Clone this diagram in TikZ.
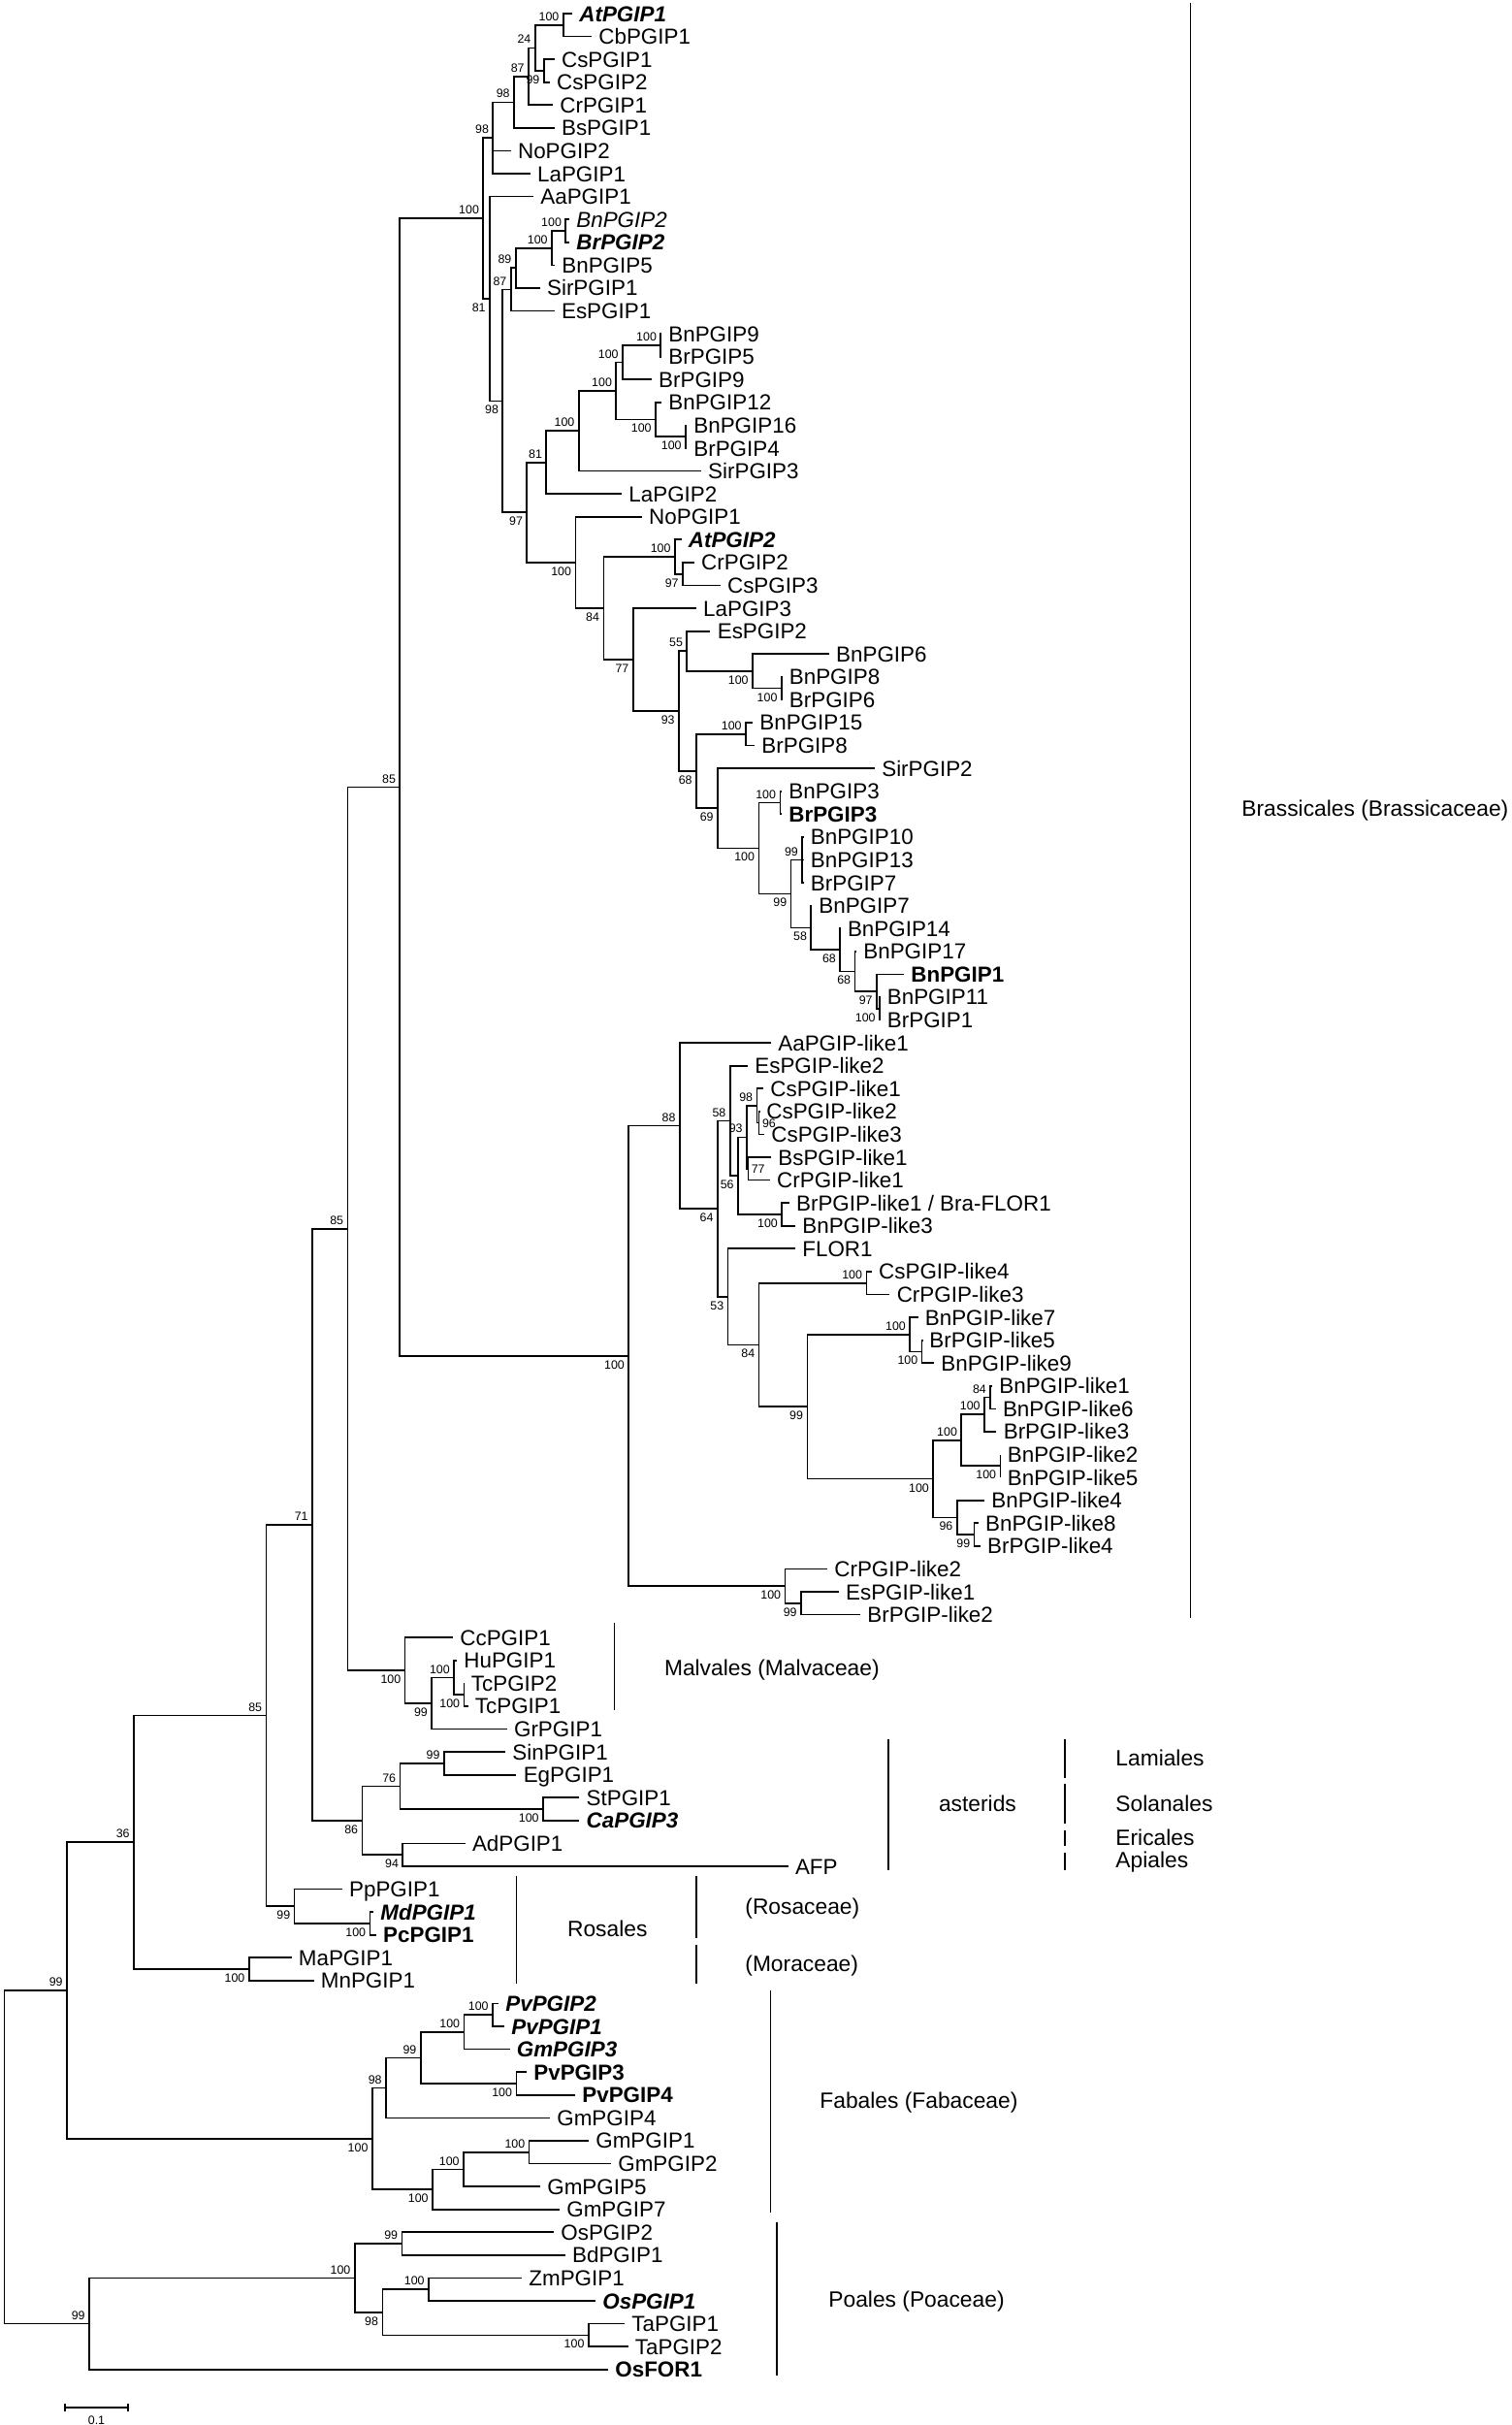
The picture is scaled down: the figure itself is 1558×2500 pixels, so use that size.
\documentclass[tikz,border=0pt]{standalone}
\usepackage{fontspec}
\setmainfont{Liberation Sans}
\usetikzlibrary{calc}
\tikzset{
  br/.style={line width=0.85pt},
  bar/.style={line width=0.9pt},
  leaf/.style={anchor=west, inner xsep=3.5pt, inner ysep=0pt, text height=8pt, text depth=0pt, font=\fontsize{11.2}{13}\selectfont},
  grp/.style={anchor=west, inner sep=0pt, text height=8.2pt, text depth=0pt, font=\fontsize{11.4}{13}\selectfont},
  bsn/.style={inner sep=2pt, text height=4.5pt, text depth=0pt, font=\fontsize{6.2}{7}\selectfont},
  bsA/.style={anchor=south east},
  bsB/.style={anchor=north east},
  bsR/.style={anchor=west, inner sep=1.5pt},
}
\newcommand\lf[3]{\coordinate (T#1) at (#2,{14+(#1-1)*23.58}); \node[leaf] (L#1) at (T#1) {#3};}
\newcommand\nd[4]{\path let \p1=(#3), \p2=(#4) in coordinate (#1) at ({#2*0.5pt},{0.5*\y1+0.5*\y2});
  \draw[br] (#3) -| (#1) |- (#4);}
\newcommand\ndt[5]{\path let \p1=(#3), \p2=(#5) in coordinate (#1) at ({#2*0.5pt},{0.5*\y1+0.5*\y2});
  \draw[br] (#3) -| (#1) |- (#5); \draw[br] (#1 |- #4) -- (#4);}
\newcommand\bs[3]{\node[bsn,#3] (b#1) at (#1) {#2};}
\newcommand\BI[1]{{\bfseries\itshape #1}}
\newcommand\BB[1]{{\bfseries #1}}
\begin{document}
\begin{tikzpicture}[x=0.5pt,y=-0.5pt]
\useasboundingbox (0,0) rectangle (1558,2500);
% leaves
\lf{1}{590}{\BI{AtPGIP1}}
\lf{2}{610}{CbPGIP1}
\lf{3}{571.7}{CsPGIP1}
\lf{4}{566.7}{CsPGIP2}
\lf{5}{570}{CrPGIP1}
\lf{6}{571.7}{BsPGIP1}
\lf{7}{526.7}{NoPGIP2}
\lf{8}{546.7}{LaPGIP1}
\lf{9}{550}{AaPGIP1}
\lf{10}{587}{\textit{BnPGIP2}}
\lf{11}{587}{\BI{BrPGIP2}}
\lf{12}{572}{BnPGIP5}
\lf{13}{556.7}{SirPGIP1}
\lf{14}{571.7}{EsPGIP1}
\lf{15}{682}{BnPGIP9}
\lf{16}{682}{BrPGIP5}
\lf{17}{671.8}{BrPGIP9}
\lf{18}{682}{BnPGIP12}
\lf{19}{708}{BnPGIP16}
\lf{20}{708}{BrPGIP4}
\lf{21}{722.8}{SirPGIP3}
\lf{22}{641}{LaPGIP2}
\lf{23}{661.8}{NoPGIP1}
\lf{24}{702.5}{\BI{AtPGIP2}}
\lf{25}{715.8}{CrPGIP2}
\lf{26}{742.7}{CsPGIP3}
\lf{27}{717.8}{LaPGIP3}
\lf{28}{732.4}{EsPGIP2}
\lf{29}{854.8}{BnPGIP6}
\lf{30}{806.5}{BnPGIP8}
\lf{31}{806.5}{BrPGIP6}
\lf{32}{776}{BnPGIP15}
\lf{33}{778}{BrPGIP8}
\lf{34}{901.9}{SirPGIP2}
\lf{35}{806}{BnPGIP3}
\lf{36}{806}{\BB{BrPGIP3}}
\lf{37}{828.5}{BnPGIP10}
\lf{38}{828.5}{BnPGIP13}
\lf{39}{828.5}{BrPGIP7}
\lf{40}{837}{BnPGIP7}
\lf{41}{866.6}{BnPGIP14}
\lf{42}{883}{BnPGIP17}
\lf{43}{932}{\BB{BnPGIP1}}
\lf{44}{907.5}{BnPGIP11}
\lf{45}{907.5}{BrPGIP1}
\lf{46}{795}{AaPGIP-like1}
\lf{47}{771}{EsPGIP-like2}
\lf{48}{787}{CsPGIP-like1}
\lf{49}{783}{CsPGIP-like2}
\lf{50}{788}{CsPGIP-like3}
\lf{51}{795}{BsPGIP-like1}
\lf{52}{793.8}{CrPGIP-like1}
\lf{53}{813.7}{BrPGIP-like1 / Bra-FLOR1}
\lf{54}{820}{BnPGIP-like3}
\lf{55}{820}{FLOR1}
\lf{56}{898.8}{CsPGIP-like4}
\lf{57}{917.4}{CrPGIP-like3}
\lf{58}{946.5}{BnPGIP-like7}
\lf{59}{951}{BrPGIP-like5}
\lf{60}{963}{BnPGIP-like9}
\lf{61}{1023}{BnPGIP-like1}
\lf{62}{1026.6}{BnPGIP-like6}
\lf{63}{1027.4}{BrPGIP-like3}
\lf{64}{1031.5}{BnPGIP-like2}
\lf{65}{1031.5}{BnPGIP-like5}
\lf{66}{1015}{BnPGIP-like4}
\lf{67}{1008.7}{BnPGIP-like8}
\lf{68}{1010.8}{BrPGIP-like4}
\lf{69}{853}{CrPGIP-like2}
\lf{70}{864.7}{EsPGIP-like1}
\lf{71}{887}{BrPGIP-like2}
\lf{72}{467}{CcPGIP1}
\lf{73}{471}{HuPGIP1}
\lf{74}{478.5}{TcPGIP2}
\lf{75}{482.5}{TcPGIP1}
\lf{76}{522.7}{GrPGIP1}
\lf{77}{521}{SinPGIP1}
\lf{78}{532.4}{EgPGIP1}
\lf{79}{597.3}{StPGIP1}
\lf{80}{597.3}{\BI{CaPGIP3}}
\lf{81}{479.6}{AdPGIP1}
\lf{82}{812.6}{AFP}
\lf{83}{352.7}{PpPGIP1}
\lf{84}{385}{\BI{MdPGIP1}}
\lf{85}{387.8}{\BB{PcPGIP1}}
\lf{86}{300.5}{MaPGIP1}
\lf{87}{323.5}{MnPGIP1}
\lf{88}{514}{\BI{PvPGIP2}}
\lf{89}{520}{\BI{PvPGIP1}}
\lf{90}{525.5}{\BI{GmPGIP3}}
\lf{91}{543}{\BB{PvPGIP3}}
\lf{92}{593}{\BB{PvPGIP4}}
\lf{93}{567}{GmPGIP4}
\lf{94}{607}{GmPGIP1}
\lf{95}{630}{GmPGIP2}
\lf{96}{557}{GmPGIP5}
\lf{97}{577}{GmPGIP7}
\lf{98}{571}{OsPGIP2}
\lf{99}{582.7}{BdPGIP1}
\lf{100}{538}{ZmPGIP1}
\lf{101}{614}{\BI{OsPGIP1}}
\lf{102}{644}{TaPGIP1}
\lf{103}{647.5}{TaPGIP2}
\lf{104}{627}{\BB{OsFOR1}}
% Brassicales PGIP clade
\nd{nAtCb}{580.7}{T1}{T2} \bs{nAtCb}{100}{bsA}
\nd{nCs}{560.7}{T3}{T4} \bs{nCs}{99}{bsB}
\nd{nTwf}{551.7}{nAtCb}{nCs} \bs{nTwf}{24}{bsA}
\nd{nEsa}{545}{nTwf}{T5} \bs{nEsa}{87}{bsA}
\nd{nNei}{530}{nEsa}{T6} \bs{nNei}{98}{bsA}
\ndt{nNeo}{508.3}{nNei}{T7}{T8} \bs{nNeo}{98}{bsA}
\nd{nBnBr}{583.3}{T10}{T11} \bs{nBnBr}{100}{bsA}
\nd{nBnf}{569}{nBnBr}{T12} \bs{nBnf}{100}{bsA}
\nd{nEnn}{531.7}{nBnf}{T13} \bs{nEnn}{89}{bsA}
\nd{nEsb}{526.7}{nEnn}{T14} \bs{nEsb}{87}{bsA}
\nd{nH}{681.3}{T15}{T16} \bs{nH}{100}{bsA}
\nd{nF}{642}{nH}{T17} \bs{nF}{100}{bsA}
\nd{nI}{707}{T19}{T20} \bs{nI}{100}{bsB}
\nd{nG}{676}{T18}{nI} \bs{nG}{100}{bsB}
\nd{nE}{635.3}{nF}{nG} \bs{nE}{100}{bsA}
\nd{nD}{596.7}{nE}{T21} \bs{nD}{100}{bsA}
\nd{nEoa}{563.3}{nD}{T22} \bs{nEoa}{81}{bsA}
\nd{nNsb}{704}{T25}{T26} \bs{nNsb}{97}{bsB}
\nd{nJ}{695.9}{T24}{nNsb} \bs{nJ}{100}{bsA}
\nd{nL}{805.8}{T30}{T31} \bs{nL}{100}{bsB}
\nd{nK}{776}{T29}{nL} \bs{nK}{100}{bsB}
\nd{nFf}{708.3}{T28}{nK} \bs{nFf}{55}{bsA}
\nd{nM}{769}{T32}{T33} \bs{nM}{100}{bsA}
\nd{nO}{804.4}{T35}{T36} \bs{nO}{100}{bsA}
\ndt{nNnb}{827.2}{T37}{T38}{T39} \bs{nNnb}{99}{bsA}
\nd{nP}{907}{T44}{T45} \bs{nP}{100}{bsB}
\nd{nNsc}{904}{T43}{nP} \bs{nNsc}{97}{bsB}
\nd{nSeb}{881.5}{T42}{nNsc} \bs{nSeb}{68}{bsB}
\nd{nSea}{866.2}{T41}{nSeb} \bs{nSea}{68}{bsB}
\nd{nFe}{836.3}{T40}{nSea} \bs{nFe}{58}{bsB}
\nd{nNna}{815.6}{nNnb}{nFe} \bs{nNna}{99}{bsB}
\nd{nN}{782.4}{nO}{nNna} \bs{nN}{100}{bsB}
\nd{nSn}{740}{T34}{nN} \bs{nSn}{69}{bsB}
\nd{nSe}{718}{nM}{nSn} \bs{nSe}{68}{bsB}
\nd{nNt}{700}{nFf}{nSe} \bs{nNt}{93}{bsB}
\nd{nSs}{652.7}{T27}{nNt} \bs{nSs}{77}{bsB}
\nd{nEf}{622.4}{nJ}{nSs} \bs{nEf}{84}{bsB}
\nd{nC}{593.4}{T23}{nEf} \bs{nC}{100}{bsB}
\nd{nNs}{543.3}{nEoa}{nC} \bs{nNs}{97}{bsB}
\nd{nNel}{518.3}{nEsb}{nNs} \bs{nNel}{98}{bsB}
\nd{nEo}{505}{T9}{nNel} \bs{nEo}{81}{bsB}
\nd{nTop}{498.3}{nNeo}{nEo} \bs{nTop}{100}{bsA}
% PGIP-like clade
\nd{nNsx}{782.6}{T49}{T50} \bs{nNsx}{96}{bsR}
\nd{nNeb}{780.5}{T48}{nNsx} \bs{nNeb}{98}{bsA}
\nd{nSsb}{771.4}{T51}{T52} \bs{nSsb}{77}{bsR}
\nd{nNtb}{770}{nNeb}{nSsb} \bs{nNtb}{93}{bsA}
\nd{nR}{806.2}{T53}{T54} \bs{nR}{100}{bsB}
\nd{nFsx}{761}{nNtb}{nR} \bs{nFsx}{56}{bsB}
\nd{nFeb}{752.7}{T47}{nFsx} \bs{nFeb}{58}{bsA}
\nd{nS}{893.4}{T56}{T57} \bs{nS}{100}{bsA}
\nd{nV}{950.6}{T59}{T60} \bs{nV}{100}{bsB}
\nd{nT}{938.2}{T58}{nV} \bs{nT}{100}{bsA}
\nd{nEfc}{1021.2}{T61}{T62} \bs{nEfc}{84}{bsA}
\nd{nX}{1015}{nEfc}{T63} \bs{nX}{100}{bsA}
\nd{nY}{1031.5}{T64}{T65} \bs{nY}{100}{bsB}
\nd{nW}{991.3}{nX}{nY} \bs{nW}{100}{bsA}
\nd{nNnd}{1004.6}{T67}{T68} \bs{nNnd}{99}{bsB}
\nd{nNsxb}{986.7}{T66}{nNnd} \bs{nNsxb}{96}{bsB}
\nd{nU}{962.2}{nW}{nNsxb} \bs{nU}{100}{bsB}
\nd{nNnc}{832.4}{nT}{nU} \bs{nNnc}{99}{bsB}
\nd{nEfb}{782.6}{nS}{nNnc} \bs{nEfb}{84}{bsB}
\nd{nFt}{750.6}{T55}{nEfb} \bs{nFt}{53}{bsB}
\nd{nSf}{739.8}{nFeb}{nFt} \bs{nSf}{64}{bsB}
\nd{nEe}{700.8}{T46}{nSf} \bs{nEe}{88}{bsA}
\nd{nNne}{826}{T70}{T71} \bs{nNne}{99}{bsB}
\nd{nQ}{809.5}{T69}{nNne} \bs{nQ}{100}{bsB}
\nd{nPL}{648.2}{nEe}{nQ} \bs{nPL}{100}{bsB}
\nd{nBras}{412.3}{nTop}{nPL} \bs{nBras}{85}{bsA}
% Malvales
\nd{nAA}{478.5}{T74}{T75} \bs{nAA}{100}{bsB}
\nd{nZ}{468.1}{T73}{nAA} \bs{nZ}{100}{bsA}
\nd{nNnf}{445.2}{nZ}{T76} \bs{nNnf}{99}{bsB}
\nd{nMalv}{417.6}{T72}{nNnf} \bs{nMalv}{100}{bsB}
\nd{nEfa}{358.5}{nBras}{nMalv} \bs{nEfa}{85}{bsA}
% asterids
\nd{nNng}{457.8}{T77}{T78} \bs{nNng}{99}{bsA}
\nd{nBB}{560}{T79}{T80} \bs{nBB}{100}{bsB}
\nd{nSsx}{412.5}{nNng}{nBB} \bs{nSsx}{76}{bsA}
\nd{nNf}{415.3}{T81}{T82} \bs{nNf}{94}{bsB}
\nd{nAst}{373.5}{nSsx}{nNf} \bs{nAst}{86}{bsB}
\nd{nSo}{322}{nEfa}{nAst} \bs{nSo}{71}{bsA}
% Rosales
\nd{nMdPc}{381.5}{T84}{T85} \bs{nMdPc}{100}{bsB}
\nd{nRos}{303.6}{T83}{nMdPc} \bs{nRos}{99}{bsB}
\nd{nEfbb}{274.5}{nSo}{nRos} \bs{nEfbb}{85}{bsA}
\nd{nMor}{256.7}{T86}{T87} \bs{nMor}{100}{bsB}
\nd{nTs}{138}{nEfbb}{nMor} \bs{nTs}{36}{bsA}
% Fabales
\nd{nPvA}{508}{T88}{T89} \bs{nPvA}{100}{bsA}
\nd{nPv}{478.5}{nPvA}{T90} \bs{nPv}{100}{bsA}
\nd{nPvB}{532.4}{T91}{T92} \bs{nPvB}{100}{bsB}
\nd{nNnh}{433.7}{nPv}{nPvB} \bs{nNnh}{99}{bsA}
\nd{nNef}{398}{nNnh}{T93} \bs{nNef}{98}{bsA}
\nd{nGmA}{545.6}{T94}{T95} \bs{nGmA}{100}{bsA}
\nd{nGm}{478}{nGmA}{T96} \bs{nGm}{100}{bsA}
\nd{nGmL}{446}{nGm}{T97} \bs{nGmL}{100}{bsB}
\nd{nFab}{383.8}{nNef}{nGmL} \bs{nFab}{100}{bsB}
\nd{nNnr}{69}{nTs}{nFab} \bs{nNnr}{99}{bsA}
% Poales
\nd{nNnp}{414.5}{T98}{T99} \bs{nNnp}{99}{bsA}
\nd{nZm}{442}{T100}{T101} \bs{nZm}{100}{bsA}
\nd{nTa}{606.8}{T102}{T103} \bs{nTa}{100}{bsB}
\nd{nNep}{394.4}{nZm}{nTa} \bs{nNep}{98}{bsB}
\nd{nPo}{365.7}{nNnp}{nNep} \bs{nPo}{100}{bsA}
\nd{nPoa}{92}{nPo}{T104} \bs{nPoa}{99}{bsA}
\nd{nRoot}{4.6}{nNnr}{nPoa}
% group bars and labels
\draw[bar] (1227.4,3) -- (1227.4,1668);
\node[grp] (gBras) at (1280,833) {Brassicales (Brassicaceae)};
\draw[bar] (633.5,1673) -- (633.5,1762.7);
\node[grp] (gMalv) at (684.6,1719) {Malvales (Malvaceae)};
\draw[bar] (916,1792.7) -- (916,1927.7);
\node[grp] (gAst) at (967.6,1859) {asterids};
\draw[bar] (1098,1792.7) -- (1098,1833);
\draw[bar] (1098,1839) -- (1098,1880);
\draw[bar] (1098,1886.7) -- (1098,1903);
\draw[bar] (1098,1910) -- (1098,1927.7);
\node[grp] (gLam) at (1150,1812) {Lamiales};
\node[grp] (gSol) at (1150,1859) {Solanales};
\node[grp] (gEri) at (1150,1894) {Ericales};
\node[grp] (gApi) at (1150,1917.7) {Apiales};
\draw[bar] (532.4,1934) -- (532.4,2045);
\node[grp] (gRos) at (584.7,1988) {Rosales};
\draw[bar] (718,1934) -- (718,1998);
\node[grp] (gRosa) at (768,1965) {(Rosaceae)};
\draw[bar] (718,2005) -- (718,2045);
\node[grp] (gMor) at (768,2024) {(Moraceae)};
\draw[bar] (794.5,2051.7) -- (794.5,2280.7);
\node[grp] (gFab) at (845,2165) {Fabales (Fabaceae)};
\draw[bar] (801,2290.7) -- (801,2449);
\node[grp] (gPoa) at (854,2370) {Poales (Poaceae)};
% scale bar
\coordinate (sA) at (67,2481.7);
\coordinate (sB) at (132,2481.7);
\draw[br] (sA) -- (sB);
\draw[br] ([yshift=2pt]sA) -- ([yshift=-2pt]sA);
\draw[br] ([yshift=2pt]sB) -- ([yshift=-2pt]sB);
\node[bsn] (sL) at (99.5,2495) {0.1};
\end{tikzpicture}
\end{document}
